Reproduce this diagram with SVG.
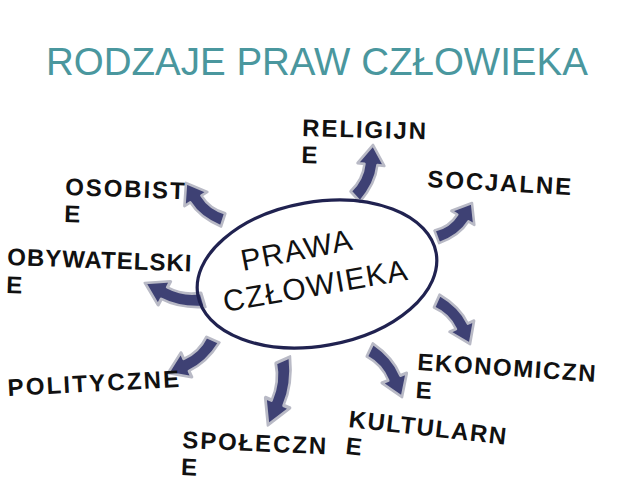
<svg xmlns="http://www.w3.org/2000/svg" xmlns:xlink="http://www.w3.org/1999/xlink" width="638" height="479" viewBox="0 0 638 479">
  <style>
    .title { font-family: "Liberation Sans", Arial, sans-serif; font-size: 38.5px; fill: #4a979e; }
    .center { font-family: "Liberation Sans", Arial, sans-serif; font-size: 30px; fill: #111; letter-spacing: 1.2px; }
    .lbl { font-family: "Liberation Sans", Arial, sans-serif; font-weight: bold; font-size: 24px; fill: #111; letter-spacing: 1.9px; }
    .arrow { fill: #3e4174; stroke: #b9bac6; stroke-width: 2.5; stroke-linejoin: round; vector-effect: non-scaling-stroke; }
    .ring { fill: none; stroke: #202250; stroke-width: 3.2; }
  </style>
  <defs>
    <path id="carrow" d="M0,0 L-17,-13.5 L-17,-6.5 Q-33,-6.5 -50,7 L-42,17.5 Q-31,6.5 -17,6.5 L-17,13.5 Z"/>
  </defs>
  <rect width="638" height="479" fill="#ffffff"/>

  <text class="title" x="46" y="75">RODZAJE PRAW CZŁOWIEKA</text>

  <g id="connectors">
    <use xlink:href="#carrow" class="arrow" transform="translate(186,183) rotate(-121.7) scale(1.107,1)"/>
    <use xlink:href="#carrow" class="arrow" transform="translate(373,145) rotate(-84) scale(1.154,-1)"/>
    <use xlink:href="#carrow" class="arrow" transform="translate(472,203) rotate(-58.4) scale(1.028,-1)"/>
    <use xlink:href="#carrow" class="arrow" transform="translate(470,344) rotate(65.3) scale(1.149,1)"/>
    <use xlink:href="#carrow" class="arrow" transform="translate(402,397) rotate(68) scale(1.209,1)"/>
    <use xlink:href="#carrow" class="arrow" transform="translate(268,425) rotate(113.4) scale(1.426,1)"/>
    <use xlink:href="#carrow" class="arrow" transform="translate(168,373) rotate(156.1) scale(1.185,1)"/>
    <use xlink:href="#carrow" class="arrow" transform="translate(145,283) rotate(-152.2) scale(1.287,1)"/>
  </g>

  <g id="center">
    <ellipse class="ring" cx="317" cy="274" rx="121" ry="72" transform="rotate(-10 317 274)"/>
    <text class="center" transform="translate(243,271) rotate(-11)">PRAWA</text>
    <text class="center" transform="translate(225,312) rotate(-10)">CZŁOWIEKA</text>
  </g>

  <g id="osobiste">
    <text class="lbl" transform="translate(65,195) rotate(2)"><tspan x="0" y="0">OSOBIST</tspan><tspan x="0" y="27">E</tspan></text>
  </g>
  <g id="religijne">
    <text class="lbl" transform="translate(302,136) rotate(1.5)"><tspan x="0" y="0">RELIGIJN</tspan><tspan x="0" y="27">E</tspan></text>
  </g>
  <g id="socjalne">
    <text class="lbl" transform="translate(427,187) rotate(3.2)">SOCJALNE</text>
  </g>
  <g id="obywatelskie">
    <text class="lbl" style="letter-spacing:1px" transform="translate(7,265) rotate(2)"><tspan x="0" y="0">OBYWATELSKI</tspan><tspan x="0" y="28">E</tspan></text>
  </g>
  <g id="polityczne">
    <text class="lbl" style="letter-spacing:2.2px" transform="translate(8,396) rotate(-3)">POLITYCZNE</text>
  </g>
  <g id="spoleczne">
    <text class="lbl" transform="translate(182,448) rotate(2.5)"><tspan x="0" y="0">SPOŁECZN</tspan><tspan x="0" y="27">E</tspan></text>
  </g>
  <g id="kulturalne">
    <text class="lbl" style="letter-spacing:1.5px" transform="translate(348,427) rotate(6.4)"><tspan x="0" y="0">KULTULARN</tspan><tspan x="0" y="27">E</tspan></text>
  </g>
  <g id="ekonomiczne">
    <text class="lbl" style="letter-spacing:1.6px" transform="translate(417,370) rotate(3.8)"><tspan x="0" y="0">EKONOMICZN</tspan><tspan x="0" y="28">E</tspan></text>
  </g>
</svg>
